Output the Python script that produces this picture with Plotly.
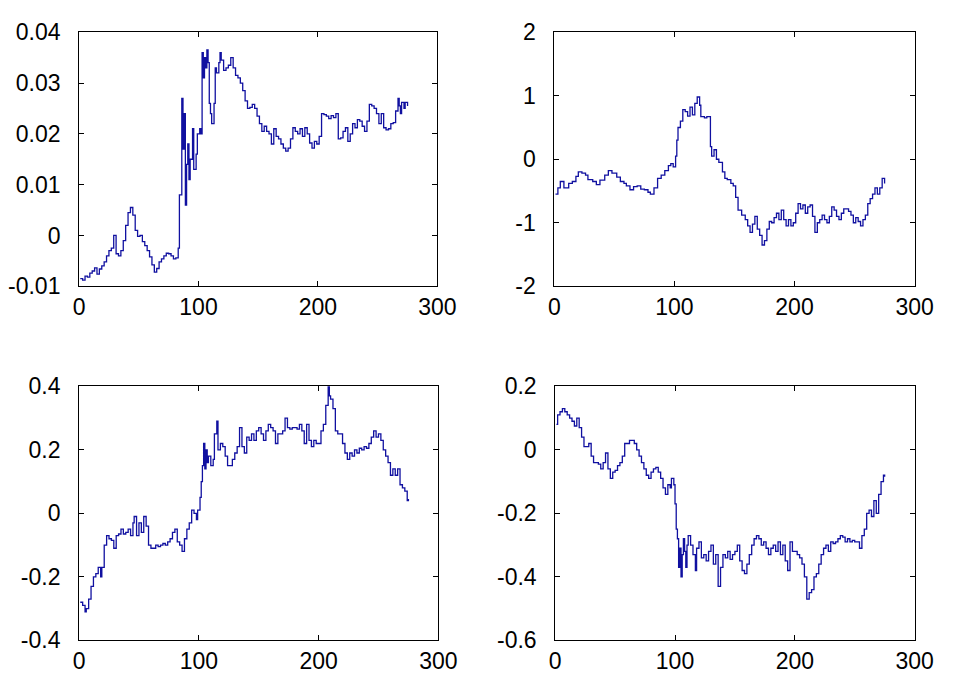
import plotly.graph_objects as go

# ---- series 1 (top left) ----
x1 = [1, 3, 5, 7, 9, 11, 13, 15, 17, 19, 21, 23, 25, 27, 29, 31, 33, 35, 37, 39,
      41, 43, 45, 47, 49, 51, 53, 55, 57, 59, 61, 63, 65, 67, 69, 71, 73, 75, 77, 79,
      81, 83, 84, 86, 87, 88, 89, 90, 91, 92, 93, 95, 96, 98, 99, 101, 102, 103, 104, 105,
      106, 107, 108, 109, 110, 111, 113, 114, 115, 117, 118, 119, 121, 123, 125, 127, 129, 131, 133, 135,
      137, 139, 141, 143, 145, 147, 149, 151, 153, 155, 157, 159, 161, 163, 165, 167, 169, 171, 173, 175,
      177, 179, 181, 183, 185, 187, 189, 191, 193, 195, 197, 199, 201, 203, 205, 207, 209, 211, 213, 215,
      217, 219, 221, 223, 225, 227, 229, 231, 233, 235, 237, 239, 241, 243, 245, 247, 249, 251, 253, 255,
      257, 259, 261, 263, 265, 267, 268, 269, 270, 272, 273, 275]
y1 = [-0.0085, -0.0088, -0.0080, -0.0082, -0.0074, -0.0070, -0.0064, -0.0076, -0.0066, -0.0060,
      -0.0052, -0.0040, -0.0030, -0.0025, 0.0000, -0.0036, -0.0040, -0.0030, -0.0010, 0.0020,
      0.0045, 0.0055, 0.0040, 0.0010, -0.0002, 0.0000, -0.0012, -0.0020, -0.0030, -0.0042,
      -0.0058, -0.0072, -0.0065, -0.0052, -0.0046, -0.0040, -0.0035, -0.0036, -0.0040, -0.0046,
      -0.0044, -0.0025, 0.0080, 0.0270, 0.0170, 0.0240, 0.0060, 0.0140, 0.0180, 0.0110,
      0.0150, 0.0210, 0.0130, 0.0160, 0.0200, 0.0210, 0.0200, 0.0360, 0.0310, 0.0350,
      0.0330, 0.0365, 0.0340, 0.0260, 0.0240, 0.0220, 0.0260, 0.0330, 0.0320, 0.0340,
      0.0360, 0.0345, 0.0325, 0.0330, 0.0335, 0.0350, 0.0330, 0.0315, 0.0310, 0.0300,
      0.0285, 0.0265, 0.0250, 0.0252, 0.0258, 0.0250, 0.0235, 0.0220, 0.0205, 0.0215,
      0.0205, 0.0200, 0.0180, 0.0210, 0.0195, 0.0190, 0.0180, 0.0172, 0.0166, 0.0172,
      0.0190, 0.0212, 0.0205, 0.0200, 0.0210, 0.0195, 0.0212, 0.0200, 0.0182, 0.0172,
      0.0185, 0.0180, 0.0195, 0.0240, 0.0238, 0.0235, 0.0230, 0.0236, 0.0232, 0.0240,
      0.0190, 0.0192, 0.0205, 0.0212, 0.0185, 0.0200, 0.0220, 0.0212, 0.0228, 0.0225,
      0.0215, 0.0205, 0.0225, 0.0258, 0.0255, 0.0250, 0.0240, 0.0220, 0.0240, 0.0212,
      0.0208, 0.0210, 0.0220, 0.0222, 0.0245, 0.0270, 0.0255, 0.0240, 0.0262, 0.0250,
      0.0262, 0.0255]

# ---- series 2 (top right) ----
x2 = [1, 3, 5, 8, 12, 15, 18, 20, 23, 26, 28, 32, 35, 38, 42, 45, 48, 52, 55, 58,
      60, 63, 66, 69, 72, 75, 78, 80, 83, 86, 89, 92, 95, 97, 99, 101, 102, 103, 105, 107,
      109, 111, 113, 115, 117, 119, 121, 122, 125, 127, 130, 131, 133, 135, 137, 140, 142, 144, 147, 149,
      151, 153, 156, 159, 161, 163, 165, 167, 169, 171, 173, 175, 177, 179, 181, 183, 185, 187, 189, 191,
      193, 195, 197, 199, 201, 203, 205, 207, 209, 211, 213, 215, 217, 219, 221, 223, 225, 227, 229, 231,
      233, 235, 237, 239, 241, 243, 245, 247, 249, 251, 253, 255, 257, 259, 261, 263, 265, 267, 269, 271,
      273, 275]
y2 = [-0.55, -0.45, -0.35, -0.45, -0.38, -0.35, -0.27, -0.20, -0.22, -0.25,
      -0.32, -0.35, -0.40, -0.33, -0.25, -0.18, -0.22, -0.28, -0.35, -0.38,
      -0.42, -0.48, -0.43, -0.42, -0.47, -0.48, -0.52, -0.55, -0.45, -0.30,
      -0.25, -0.18, -0.10, -0.07, -0.12, 0.05, 0.30, 0.50, 0.60, 0.78,
      0.75, 0.68, 0.82, 0.70, 0.88, 0.98, 0.85, 0.67, 0.65, 0.67,
      0.20, 0.05, 0.15, 0.00, -0.05, -0.20, -0.30, -0.32, -0.38, -0.42,
      -0.60, -0.80, -0.88, -0.95, -1.05, -1.15, -1.02, -0.90, -1.10, -1.20,
      -1.35, -1.28, -1.10, -0.98, -1.00, -0.92, -0.85, -0.95, -0.80, -0.95,
      -1.05, -0.95, -1.05, -1.00, -0.85, -0.70, -0.78, -0.72, -0.85, -0.75,
      -0.72, -0.90, -1.15, -1.00, -0.95, -0.88, -0.95, -1.00, -0.90, -0.75,
      -0.80, -0.90, -0.95, -0.85, -0.78, -0.78, -0.82, -0.88, -1.00, -0.92,
      -0.98, -1.05, -0.95, -0.88, -0.70, -0.62, -0.55, -0.45, -0.55, -0.45,
      -0.30, -0.38]

# ---- series 3 (bottom left) ----
x3 = [1, 3, 5, 6, 8, 10, 12, 14, 16, 18, 19, 21, 23, 25, 27, 29, 31, 33, 35, 37,
      39, 41, 43, 45, 46, 48, 50, 52, 54, 56, 58, 60, 62, 64, 66, 68, 70, 72, 74, 76,
      78, 80, 82, 84, 86, 88, 90, 92, 94, 96, 98, 99, 101, 102, 103, 104, 105, 106, 107, 108,
      110, 112, 113, 115, 116, 118, 120, 122, 124, 126, 128, 130, 132, 134, 136, 138, 140, 142, 144, 146,
      148, 150, 152, 154, 156, 158, 160, 162, 164, 166, 168, 170, 172, 174, 176, 178, 180, 182, 184, 186,
      188, 190, 192, 194, 196, 198, 200, 202, 204, 206, 208, 209, 210, 212, 214, 216, 218, 220, 222, 224,
      226, 228, 230, 232, 234, 236, 238, 240, 242, 244, 246, 248, 250, 252, 254, 256, 258, 260, 262, 264,
      266, 268, 270, 272, 274, 275]
y3 = [-0.28, -0.29, -0.31, -0.30, -0.27, -0.23, -0.20, -0.19, -0.17, -0.20,
      -0.17, -0.10, -0.07, -0.08, -0.085, -0.11, -0.07, -0.065, -0.05, -0.065,
      -0.06, -0.05, -0.07, -0.03, -0.01, -0.07, -0.03, -0.06, -0.01, -0.04,
      -0.10, -0.11, -0.11, -0.10, -0.105, -0.10, -0.095, -0.10, -0.09, -0.08,
      -0.06, -0.05, -0.09, -0.10, -0.12, -0.08, -0.05, -0.03, 0.01, 0.00,
      -0.02, 0.01, 0.05, 0.10, 0.15, 0.22, 0.14, 0.20, 0.16, 0.18,
      0.15, 0.17, 0.25, 0.29, 0.20, 0.22, 0.21, 0.18, 0.15, 0.15,
      0.17, 0.19, 0.21, 0.27, 0.21, 0.19, 0.24, 0.23, 0.25, 0.23,
      0.26, 0.27, 0.25, 0.23, 0.26, 0.28, 0.27, 0.26, 0.22, 0.25,
      0.25, 0.26, 0.30, 0.27, 0.265, 0.27, 0.27, 0.265, 0.28, 0.26,
      0.22, 0.28, 0.23, 0.21, 0.23, 0.22, 0.22, 0.26, 0.28, 0.34,
      0.40, 0.37, 0.36, 0.33, 0.26, 0.25, 0.25, 0.22, 0.19, 0.17,
      0.19, 0.18, 0.20, 0.19, 0.205, 0.20, 0.21, 0.205, 0.22, 0.24,
      0.26, 0.24, 0.25, 0.23, 0.20, 0.18, 0.16, 0.12, 0.14, 0.12,
      0.14, 0.09, 0.08, 0.07, 0.04, 0.045]

# ---- series 4 (bottom right) ----
x4 = [1, 2, 4, 6, 8, 10, 12, 14, 16, 18, 20, 22, 24, 26, 28, 30, 32, 34, 36, 38,
      40, 42, 44, 46, 48, 50, 52, 54, 56, 58, 60, 62, 64, 66, 68, 70, 72, 74, 76, 78,
      80, 82, 84, 86, 88, 90, 92, 94, 96, 97, 99, 100, 101, 102, 103, 104, 105, 106, 107, 108,
      109, 110, 111, 113, 115, 117, 118, 120, 122, 124, 126, 128, 130, 132, 134, 136, 138, 140, 142, 144,
      146, 148, 150, 152, 154, 156, 158, 160, 162, 164, 166, 168, 170, 172, 174, 176, 178, 180, 182, 184,
      186, 188, 190, 192, 194, 196, 198, 200, 202, 204, 206, 208, 210, 212, 214, 216, 218, 220, 222, 224,
      226, 228, 230, 232, 234, 236, 238, 240, 242, 244, 246, 248, 250, 252, 254, 256, 258, 260, 262, 264,
      266, 268, 270, 272, 274, 275]
y4 = [0.08, 0.11, 0.12, 0.13, 0.12, 0.11, 0.10, 0.09, 0.075, 0.10,
      0.07, 0.04, 0.01, 0.01, 0.02, -0.02, -0.04, -0.04, -0.045, -0.06,
      -0.04, -0.01, -0.06, -0.09, -0.07, -0.065, -0.05, -0.04, -0.02, 0.02,
      0.02, 0.03, 0.03, 0.02, 0.00, -0.02, -0.04, -0.06, -0.08, -0.09,
      -0.07, -0.06, -0.055, -0.07, -0.09, -0.12, -0.14, -0.11, -0.12, -0.09,
      -0.11, -0.17, -0.25, -0.28, -0.37, -0.31, -0.40, -0.33, -0.28, -0.32,
      -0.37, -0.30, -0.27, -0.30, -0.33, -0.38, -0.31, -0.29, -0.34, -0.33,
      -0.35, -0.32, -0.30, -0.36, -0.33, -0.43, -0.37, -0.33, -0.34, -0.32,
      -0.345, -0.33, -0.32, -0.30, -0.35, -0.38, -0.39, -0.36, -0.33, -0.30,
      -0.28, -0.27, -0.28, -0.30, -0.29, -0.31, -0.33, -0.31, -0.30, -0.32,
      -0.29, -0.33, -0.30, -0.35, -0.38, -0.29, -0.32, -0.32, -0.33, -0.34,
      -0.36, -0.40, -0.47, -0.45, -0.44, -0.40, -0.39, -0.36, -0.33, -0.31,
      -0.30, -0.32, -0.29, -0.295, -0.29, -0.28, -0.27, -0.275, -0.29, -0.28,
      -0.29, -0.285, -0.29, -0.29, -0.31, -0.27, -0.25, -0.20, -0.19, -0.21,
      -0.16, -0.20, -0.14, -0.10, -0.08, -0.085]

# ---- axis ticks ----
xticks = [0, 100, 200, 300]
yticks1 = [-0.01, 0, 0.01, 0.02, 0.03, 0.04]
ytext1 = ["-0.01", "0", "0.01", "0.02", "0.03", "0.04"]
yticks2 = [-2, -1, 0, 1, 2]
ytext2 = ["-2", "-1", "0", "1", "2"]
yticks3 = [-0.4, -0.2, 0, 0.2, 0.4]
ytext3 = ["-0.4", "-0.2", "0", "0.2", "0.4"]
yticks4 = [-0.6, -0.4, -0.2, 0, 0.2]
ytext4 = ["-0.6", "-0.4", "-0.2", "0", "0.2"]

LINE_COLOR = "#1010a0"
FONT = dict(family="Liberation Sans, Arial, sans-serif", size=23, color="#000000")

panels = [
    (x1, y1, yticks1, ytext1, [-0.01, 0.04], [0.0784, 0.4629], [0.5866, 0.9709]),
    (x2, y2, yticks2, ytext2, [-2, 2], [0.5883, 0.9749], [0.5866, 0.9709]),
    (x3, y3, yticks3, ytext3, [-0.4, 0.4], [0.0784, 0.4639], [0.0509, 0.4352]),
    (x4, y4, yticks4, ytext4, [-0.6, 0.2], [0.5893, 0.9749], [0.0509, 0.4352]),
]

fig = go.Figure()
layout = {}
for i, (xs, ys, yt, ytt, yr, xdom, ydom) in enumerate(panels, start=1):
    sfx = "" if i == 1 else str(i)
    fig.add_trace(go.Scatter(
        x=xs, y=ys, mode="lines",
        line=dict(color=LINE_COLOR, width=1.3, shape="hv"),
        xaxis="x" + sfx, yaxis="y" + sfx, showlegend=False,
    ))
    common = dict(
        showline=True, linecolor="#000000", linewidth=1, mirror="ticks",
        ticks="inside", ticklen=5, tickcolor="#000000", tickwidth=1,
        showgrid=False, zeroline=False, tickfont=FONT, fixedrange=True,
    )
    layout["xaxis" + sfx] = dict(
        common, domain=xdom, range=[0, 300], tickvals=xticks,
        ticktext=[str(v) for v in xticks], anchor="y" + sfx,
        ticklabelstandoff=0,
    )
    layout["yaxis" + sfx] = dict(
        common, domain=ydom, range=yr, tickvals=yt, ticktext=ytt,
        anchor="x" + sfx, ticklabelstandoff=13,
    )

fig.update_layout(
    width=957, height=687,
    margin=dict(l=0, r=0, t=0, b=0),
    paper_bgcolor="#ffffff", plot_bgcolor="#ffffff",
    **layout,
)

fig.write_html("out.html")
